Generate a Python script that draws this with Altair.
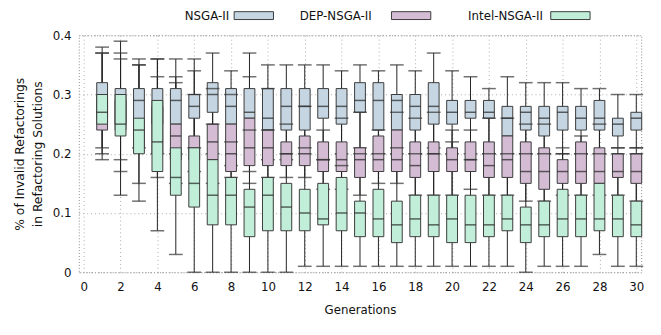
import altair as alt
import pandas as pd

series_names = ["NSGA-II", "DEP-NSGA-II", "Intel-NSGA-II"]
series_colors = ["#c5d5e2", "#d4bcd4", "#c0eed8"]
generations = list(range(1, 31))

# NSGA-II
n_lo  = [0.21,0.19,0.21,0.20,0.20,0.21,0.20,0.18,0.17,0.19,0.19,0.20,0.19,0.20,0.21,0.20,0.20,0.20,0.21,0.20,0.20,0.20,0.20,0.20,0.20,0.20,0.20,0.20,0.21,0.21]
n_q1  = [0.26,0.25,0.25,0.25,0.25,0.26,0.27,0.25,0.26,0.24,0.24,0.24,0.26,0.25,0.27,0.24,0.24,0.24,0.25,0.25,0.26,0.26,0.23,0.24,0.23,0.24,0.24,0.24,0.23,0.24]
n_med = [0.28,0.28,0.29,0.28,0.29,0.28,0.30,0.28,0.27,0.26,0.28,0.28,0.28,0.28,0.29,0.29,0.29,0.28,0.28,0.27,0.27,0.27,0.26,0.27,0.26,0.27,0.26,0.26,0.25,0.26]
n_q3  = [0.32,0.31,0.31,0.31,0.31,0.30,0.32,0.31,0.31,0.31,0.31,0.31,0.31,0.31,0.32,0.32,0.30,0.30,0.32,0.29,0.29,0.29,0.28,0.28,0.28,0.28,0.28,0.29,0.26,0.27]
n_hi  = [0.38,0.39,0.36,0.36,0.36,0.36,0.37,0.34,0.37,0.35,0.35,0.35,0.35,0.34,0.35,0.34,0.35,0.34,0.37,0.34,0.33,0.31,0.33,0.32,0.32,0.32,0.31,0.31,0.30,0.30]

# DEP-NSGA-II
d_lo  = [0.19,0.17,0.15,0.16,0.15,0.17,0.15,0.16,0.15,0.16,0.16,0.16,0.14,0.14,0.13,0.15,0.15,0.13,0.13,0.13,0.14,0.13,0.13,0.12,0.12,0.13,0.13,0.13,0.13,0.12]
d_q1  = [0.24,0.24,0.21,0.20,0.19,0.19,0.19,0.17,0.18,0.18,0.18,0.18,0.17,0.17,0.16,0.17,0.17,0.16,0.17,0.17,0.17,0.16,0.16,0.15,0.14,0.15,0.15,0.15,0.16,0.15]
d_med = [0.27,0.26,0.23,0.24,0.23,0.21,0.22,0.20,0.21,0.21,0.20,0.20,0.19,0.19,0.19,0.19,0.19,0.18,0.20,0.19,0.19,0.18,0.19,0.17,0.17,0.17,0.17,0.17,0.17,0.17]
d_q3  = [0.29,0.29,0.25,0.28,0.25,0.23,0.25,0.25,0.26,0.24,0.22,0.23,0.22,0.22,0.21,0.23,0.24,0.22,0.22,0.21,0.22,0.22,0.23,0.22,0.21,0.19,0.22,0.21,0.20,0.20]
d_hi  = [0.37,0.37,0.35,0.33,0.33,0.34,0.31,0.30,0.33,0.31,0.25,0.28,0.24,0.26,0.27,0.24,0.27,0.26,0.27,0.24,0.24,0.26,0.26,0.25,0.25,0.21,0.23,0.25,0.21,0.21]

# Intel-NSGA-II
i_lo  = [0.20,0.13,0.12,0.07,0.03,0.00,0.00,0.00,0.00,0.00,0.00,0.01,0.01,0.01,0.01,0.01,0.01,0.01,0.01,0.01,0.01,0.01,0.01,0.00,0.01,0.01,0.01,0.03,0.01,0.01]
i_q1  = [0.25,0.23,0.20,0.17,0.13,0.11,0.08,0.08,0.06,0.07,0.07,0.07,0.08,0.07,0.06,0.06,0.05,0.06,0.06,0.05,0.05,0.06,0.07,0.05,0.06,0.06,0.06,0.07,0.06,0.06]
i_med = [0.27,0.25,0.24,0.22,0.16,0.15,0.13,0.13,0.11,0.13,0.11,0.10,0.09,0.10,0.10,0.09,0.08,0.09,0.08,0.09,0.08,0.08,0.09,0.08,0.08,0.09,0.09,0.09,0.09,0.08]
i_q3  = [0.30,0.30,0.26,0.29,0.21,0.21,0.19,0.16,0.14,0.16,0.15,0.14,0.15,0.16,0.12,0.14,0.12,0.13,0.13,0.13,0.13,0.13,0.13,0.11,0.12,0.14,0.13,0.15,0.13,0.12]
i_hi  = [0.37,0.36,0.35,0.36,0.32,0.30,0.25,0.22,0.24,0.24,0.20,0.21,0.19,0.18,0.20,0.20,0.21,0.20,0.20,0.22,0.19,0.20,0.20,0.20,0.20,0.20,0.20,0.20,0.20,0.20]

x_tick_values = list(range(0, 31, 2))
y_tick_values = [0, 0.1, 0.2, 0.3, 0.4]

stats = {
    "NSGA-II": (n_lo, n_q1, n_med, n_q3, n_hi),
    "DEP-NSGA-II": (d_lo, d_q1, d_med, d_q3, d_hi),
    "Intel-NSGA-II": (i_lo, i_q1, i_med, i_q3, i_hi),
}

rows = []
for s in series_names:
    lo, q1, med, q3, hi = stats[s]
    for k, g in enumerate(generations):
        rows.append({"series": s, "gen": g, "lo": lo[k], "q1": q1[k],
                     "med": med[k], "q3": q3[k], "hi": hi[k]})
df = pd.DataFrame(rows)

FONT = "DejaVu Sans"
EDGE = "#3a3a3a"

xscale = alt.Scale(domain=[0, 30], nice=False, zero=False)
yscale = alt.Scale(domain=[0, 0.4], nice=False)

xaxis = alt.Axis(values=x_tick_values, title="Generations", grid=True,
                 ticks=False, domain=False, labelPadding=10, titlePadding=12,
                 format="d", labelOverlap=False, labelFlush=False)
yaxis = alt.Axis(values=y_tick_values, format="~g",
                 title=["% of Invalid Refactorings", "in Refactoring Solutions"],
                 grid=True, ticks=False, domain=False, labelPadding=8,
                 titlePadding=8, titleFontSize=12.5, titleLineHeight=18)


def X():
    return alt.X("gen:Q", scale=xscale, axis=xaxis)


def Y(field):
    return alt.Y(field, type="quantitative", scale=yscale, axis=yaxis)


base = alt.Chart(df)

whiskers = base.mark_rule(color="#222222", strokeWidth=1).encode(
    x=X(), y=Y("lo"), y2="hi:Q")

layers = [whiskers]
for s, col in zip(series_names, series_colors):
    sub = base.transform_filter(alt.datum.series == s)
    box = sub.mark_bar(size=11, color=col, stroke=EDGE, strokeWidth=1).encode(
        x=X(), y=Y("q1"), y2="q3:Q")
    med = sub.mark_tick(size=11, thickness=1.5, orient="horizontal",
                        color="#222222").encode(x=X(), y=Y("med"))
    cap_lo = sub.mark_tick(size=14, thickness=1.5, orient="horizontal",
                           color="#333333").encode(x=X(), y=Y("lo"))
    cap_hi = sub.mark_tick(size=14, thickness=1.5, orient="horizontal",
                           color="#333333").encode(x=X(), y=Y("hi"))
    layers += [box, med, cap_lo, cap_hi]

# legend (label to the left of a wide colour swatch), above the plot
legend_text_right = [153, 298, 472]
legend_box_left = [158, 318, 480]
for s, col, tx, bx in zip(series_names, series_colors, legend_text_right, legend_box_left):
    ldf = pd.DataFrame({"label": [s]})
    t = alt.Chart(ldf).mark_text(align="right", baseline="middle", font=FONT,
                                 fontSize=12, color="#111111").encode(
        text="label:N", x=alt.value(tx), y=alt.value(-20))
    r = alt.Chart(ldf).mark_rect(fill=col, stroke=EDGE, strokeWidth=1).encode(
        x=alt.value(bx), x2=alt.value(bx + 40), y=alt.value(-24), y2=alt.value(-16))
    layers += [t, r]

chart = alt.layer(*layers).properties(
    width=572, height=241,
    autosize=alt.AutoSizeParams(type="none"),
    padding={"left": 72, "top": 25, "right": 12, "bottom": 55},
).configure_view(
    stroke="#888888", strokeDash=[1, 2], strokeWidth=1
).configure_axis(
    labelFont=FONT, titleFont=FONT, labelFontSize=12, titleFontSize=12,
    labelColor="#111111", titleColor="#111111", titleFontWeight="normal",
    gridColor="#aaaaaa", gridDash=[1, 3], gridWidth=1
).configure_axisX(
    labelOverlap=False, labelFlush=False
)

chart.save("out.html", embed_options={"renderer": "svg", "actions": False})
